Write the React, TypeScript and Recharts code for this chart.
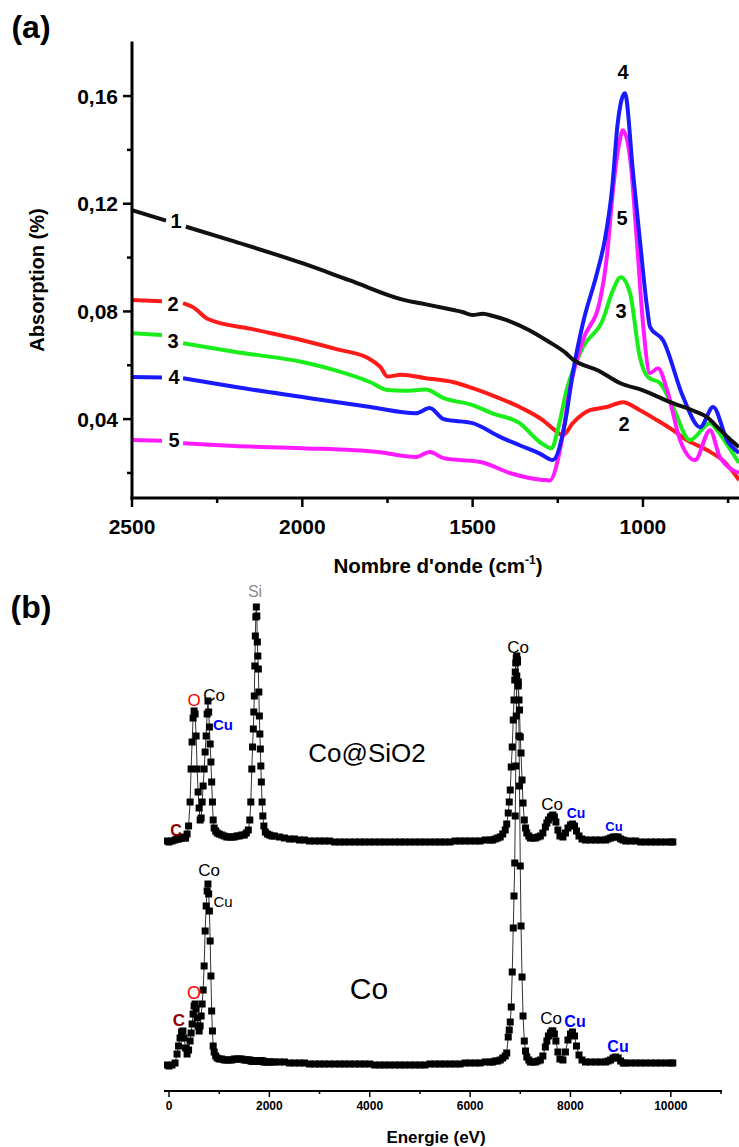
import { Line, LineChart, XAxis, YAxis } from "recharts";

const FONT = "'Liberation Sans', Arial, Helvetica, sans-serif";

// ---- (a) FTIR absorption, wavenumber in cm-1 (null = gap behind the curve label)
const curve1Wn = [2500, 2400, 2370, 2342, 2200, 2000, 1862, 1700, 1640, 1556, 1530, 1500, 1470, 1440, 1400, 1335, 1280, 1226, 1206, 1130, 1068, 1000, 912, 850, 812, 780, 750, 718];
const curve1Abs = [0.1176, 0.1137, null, 0.1115, 0.106, 0.0979, 0.0916, 0.0842, 0.0827, 0.0805, 0.0798, 0.0787, 0.0791, 0.0783, 0.0768, 0.0731, 0.069, 0.0645, 0.0622, 0.058, 0.0534, 0.0507, 0.0459, 0.043, 0.0407, 0.0368, 0.0332, 0.0296];

const curve2Wn = [2500, 2412, 2380, 2350, 2320, 2277, 2150, 2000, 1900, 1806, 1770, 1750, 1709, 1638, 1556, 1500, 1444, 1362, 1294, 1260, 1235, 1206, 1156, 1106, 1059, 1009, 960, 912, 871, 812, 760, 718];
const curve2Abs = [0.0842, 0.0838, null, 0.0831, 0.0815, 0.0772, 0.0735, 0.0693, 0.066, 0.0626, 0.0592, 0.0558, 0.0565, 0.0552, 0.0537, 0.0515, 0.0489, 0.0445, 0.0396, 0.036, 0.034, 0.0385, 0.0433, 0.0445, 0.0463, 0.0433, 0.0397, 0.0359, 0.0322, 0.0285, 0.024, 0.0174];

const curve3Wn = [2500, 2412, 2380, 2350, 2200, 2000, 1900, 1800, 1750, 1700, 1638, 1585, 1500, 1444, 1362, 1303, 1268, 1250, 1224, 1176, 1118, 1088, 1065, 1038, 1009, 985, 950, 912, 862, 803, 780, 750, 718];
const curve3Abs = [0.0719, 0.0712, null, 0.0682, 0.065, 0.0612, 0.058, 0.0537, 0.0508, 0.0505, 0.051, 0.0478, 0.0452, 0.0422, 0.0385, 0.0315, 0.0292, 0.036, 0.0508, 0.0667, 0.0768, 0.0879, 0.0927, 0.0868, 0.063, 0.0556, 0.0534, 0.0445, 0.0322, 0.0385, 0.0355, 0.03, 0.0237];

const curve4Wn = [2500, 2412, 2380, 2350, 2200, 2000, 1800, 1667, 1626, 1585, 1500, 1418, 1362, 1300, 1265, 1229, 1206, 1176, 1135, 1112, 1091, 1074, 1053, 1029, 1009, 988, 979, 941, 882, 832, 794, 753, 718];
const curve4Abs = [0.0556, 0.0555, null, 0.0552, 0.052, 0.0482, 0.0445, 0.0422, 0.0441, 0.04, 0.0385, 0.0333, 0.0303, 0.027, 0.0248, 0.0385, 0.0571, 0.0757, 0.0942, 0.1065, 0.125, 0.15, 0.161, 0.1313, 0.1065, 0.0816, 0.0742, 0.0693, 0.0482, 0.037, 0.0445, 0.0322, 0.0274];

const curve5Wn = [2500, 2412, 2380, 2350, 2200, 2000, 1779, 1667, 1626, 1585, 1474, 1391, 1294, 1274, 1238, 1215, 1176, 1126, 1106, 1088, 1068, 1059, 1038, 1018, 1000, 979, 956, 929, 891, 847, 803, 774, 718];
const curve5Abs = [0.0322, 0.032, null, 0.031, 0.03, 0.0292, 0.0278, 0.0259, 0.0278, 0.0255, 0.024, 0.02, 0.0174, 0.0172, 0.0322, 0.0508, 0.0693, 0.0842, 0.1002, 0.125, 0.1436, 0.1473, 0.1373, 0.1065, 0.0757, 0.0571, 0.0589, 0.0508, 0.0322, 0.0248, 0.0359, 0.0259, 0.02];

const ftirTicksX = [2500, 2250, 2000, 1750, 1500, 1250, 1000, 750];
const ftirTicksY = [0.02, 0.04, 0.06, 0.08, 0.1, 0.12, 0.14, 0.16];

// ---- (b) EDX spectra, energy in eV, counts in a.u.
const lowEnergyEv = [
  -50, 0, 60, 120, 160, 190, 220, 250, 277, 300,
  330, 360, 390, 420, 440, 460, 480, 500, 520, 540,
  560, 580, 600, 620, 640, 660, 680, 700, 720, 740,
  760, 776, 790, 805, 820, 835, 850, 865, 880, 900,
  930, 960, 1000, 1050, 1100, 1150, 1200, 1250, 1300, 1350,
  1400, 1450, 1500, 1540, 1580, 1610, 1630, 1650, 1665, 1680,
  1690, 1700, 1710, 1720, 1730, 1740, 1750, 1760, 1770, 1780,
  1790, 1800, 1810, 1820, 1830, 1840, 1855, 1870, 1890, 1920,
  1960, 2000, 2050, 2100,
];
const lowCoSiO2 = [
  1, 0, 1, 2, 3, 3, 4, 4, 5, 4,
  4, 8, 16, 40, 73, 100, 124, 131, 128, 106,
  73, 50, 34, 22, 24, 40, 56, 73, 90, 106,
  128, 141, 130, 115, 98, 80, 60, 40, 22, 14,
  11, 9, 8, 7, 6, 5, 5, 5, 5, 6,
  6, 7, 7, 9, 12, 22, 40, 73, 95, 113,
  130, 146, 176, 206, 225, 235, 226, 200, 186, 173,
  150, 126, 108, 93, 76, 60, 40, 26, 16, 10,
  8, 7, 6, 6,
];
const lowCo = [
  1, 0, 1, 3, 12, 20, 28, 34, 35, 28,
  18, 12, 16, 25, 33, 42, 52, 60, 62, 57,
  48, 40, 35, 40, 50, 62, 76, 100, 135, 160,
  175, 182, 172, 155, 125, 90, 55, 35, 20, 14,
  10, 8, 7, 7, 6, 6, 6, 6, 7, 7,
  7, 7, 6, 6, 6, 6, 5, 5, 5, 5,
  5, 5, 5, 5, 5, 5, 5, 5, 5, 5,
  5, 5, 5, 5, 5, 5, 5, 5, 4, 4,
  4, 4, 4, 4,
];

const midEnergyEv = [
  2200, 2300, 2400, 2500, 2600, 2700, 2800, 2900, 3000, 3100,
  3200, 3300, 3400, 3500, 3600, 3700, 3800, 3900, 4000, 4100,
  4200, 4300, 4400, 4500, 4600, 4700, 4800, 4900, 5000, 5100,
  5200, 5300, 5400, 5500, 5600, 5700, 5800, 5900, 6000, 6100,
  6200, 6300,
];
const midCoSiO2 = [
  5, 4, 3, 3, 2, 2, 1, 1, 1, 1,
  1, 0, 0, 0, 0, 0, 0, 0, 0, 0,
  0, 0, 0, 0, 0, 0, 0, 0, 0, 0,
  0, 0, 0, 0, 0, 1, 1, 1, 1, 1,
  1, 2,
];
const midCo = [
  4, 4, 3, 3, 3, 3, 2, 2, 2, 2,
  2, 2, 2, 2, 2, 2, 2, 2, 2, 1,
  1, 1, 1, 1, 1, 1, 1, 1, 1, 1,
  2, 2, 2, 2, 2, 2, 2, 3, 3, 3,
  3, 4,
];

const highEnergyEv = [
  6400, 6450, 6500, 6550, 6600, 6650, 6700, 6730, 6760, 6780,
  6800, 6820, 6840, 6860, 6875, 6890, 6900, 6910, 6920, 6930,
  6945, 6960, 6975, 6985, 7000, 7015, 7035, 7055, 7080, 7105,
  7130, 7170, 7200, 7250, 7300, 7350, 7400, 7450, 7500, 7530,
  7560, 7600, 7630, 7650, 7680, 7710, 7750, 7790, 7850, 7900,
  7950, 8000, 8040, 8080, 8120, 8170, 8230, 8300, 8400, 8500,
  8600, 8700, 8750, 8800, 8850, 8900, 8950, 9000, 9050, 9100,
  9200, 9300, 9400, 9500, 9600, 9700, 9800, 9900, 10000, 10040,
];
const highCoSiO2 = [
  2, 2, 3, 4, 5, 8, 12, 18, 29, 40,
  52, 75, 95, 122, 142, 162, 170, 179, 184, 186,
  182, 160, 142, 132, 105, 89, 62, 39, 22, 14,
  9, 6, 4, 4, 4, 5, 6, 9, 15, 19,
  22, 25, 26, 27, 25, 20, 12, 6, 5, 9,
  14, 17, 18, 16, 11, 6, 3, 2, 2, 2,
  2, 2, 3, 4, 5, 5, 5, 3, 2, 1,
  1, 1, 0, 0, 0, 0, 0, 0, 0, 0,
];
const highCo = [
  4, 4, 5, 5, 6, 8, 10, 13, 29, 36,
  44, 59, 94, 138, 170, 203, 250, 300, 350, 390,
  404, 380, 330, 280, 200, 140, 89, 50, 25, 15,
  9, 6, 4, 4, 4, 5, 6, 10, 19, 25,
  30, 33, 35, 35, 32, 25, 14, 7, 6, 14,
  26, 32, 34, 30, 20, 11, 6, 4, 4, 4,
  4, 4, 5, 6, 8, 9, 8, 5, 3, 3,
  3, 3, 3, 3, 3, 3, 3, 3, 3, 3,
];

const edxTicks = [0, 1000, 2000, 3000, 4000, 5000, 6000, 7000, 8000, 9000, 10000, 11000];

const toFtir = (wn: number[], abs: (number | null)[]) => wn.map((w, i) => ({ wn: w, abs: abs[i] }));
const energyEv = [...lowEnergyEv, ...midEnergyEv, ...highEnergyEv];
const coSiO2Counts = [...lowCoSiO2, ...midCoSiO2, ...highCoSiO2];
const coCounts = [...lowCo, ...midCo, ...highCo];
const coSiO2Data = energyEv.map((e, i) => ({ e, c: coSiO2Counts[i] }));
const coData = energyEv.map((e, i) => ({ e, c: coCounts[i] }));

function FtirBottomTick({ x, y, payload }: any) {
  const major = payload.value % 500 === 0;
  return (
    <g>
      <line x1={x} x2={x} y1={y} y2={y + (major ? 9 : 5)} stroke="#000" strokeWidth={2.5} />
      {major && (
        <text x={x} y={y + 36} textAnchor="middle" fontSize={21} fontWeight="bold" fontFamily={FONT} fill="#000">
          {payload.value}
        </text>
      )}
    </g>
  );
}

function FtirTopTick({ x, y }: any) {
  return <line x1={x} x2={x} y1={y} y2={y + 4} stroke="#000" strokeWidth={2} />;
}

function FtirLeftTick({ x, y, payload }: any) {
  const v = payload.value;
  const major = Math.round(v * 100) % 4 === 0;
  return (
    <g>
      <line x1={x - (major ? 9 : 5)} x2={x} y1={y} y2={y} stroke="#000" strokeWidth={2.5} />
      {major && (
        <text x={x - 14} y={y + 7.5} textAnchor="end" fontSize={21} fontWeight="bold" fontFamily={FONT} fill="#000">
          {v.toFixed(2).replace(".", ",")}
        </text>
      )}
    </g>
  );
}

function EdxTick({ x, y, payload }: any) {
  const v = payload.value;
  const major = v % 2000 === 0;
  return (
    <g>
      <line x1={x} x2={x} y1={y} y2={y + (major ? 6 : 3)} stroke="#000" strokeWidth={1.5} />
      {major && v <= 10000 && (
        <text x={x} y={y + 18.5} textAnchor="middle" fontSize={12} fontWeight="bold" fontFamily={FONT} fill="#000">
          {v}
        </text>
      )}
    </g>
  );
}

const squareDot = (p: any) => {
  if (p.cx == null || p.cy == null) return <g key={p.index} />;
  return <rect key={p.index} x={p.cx - 3.5} y={p.cy - 3.5} width={7} height={7} fill="#000" />;
};

const axisStroke = { stroke: "#000", strokeWidth: 3, strokeLinecap: "square" as const };

function Label({ x, y, children, size = 16, color = "#000", bold = false, rotate = 0 }: any) {
  return (
    <text
      x={x}
      y={y}
      fontSize={size}
      fill={color}
      fontWeight={bold ? "bold" : "normal"}
      fontFamily={FONT}
      textAnchor="middle"
      dominantBaseline="central"
      transform={rotate ? `rotate(${rotate} ${x} ${y})` : undefined}
    >
      {children}
    </text>
  );
}

export default function App() {
  return (
    <div style={{ position: "absolute", left: 0, top: 0, width: 739, height: 1147, background: "#fff", overflow: "hidden" }}>
      <div style={{ position: "absolute", left: 0, top: 0 }}>
        <LineChart width={739} height={540} margin={{ top: 43, right: 0, bottom: 2, left: 0 }}>
          <XAxis
            xAxisId="top"
            orientation="top"
            type="number"
            dataKey="wn"
            domain={[718, 2500]}
            reversed
            allowDataOverflow
            height={0}
            ticks={ftirTicksX}
            interval={0}
            tickSize={0}
            tickMargin={0}
            tickLine={false}
            axisLine={axisStroke}
            tick={<FtirTopTick />}
          />
          <XAxis
            type="number"
            dataKey="wn"
            domain={[718, 2500]}
            reversed
            allowDataOverflow
            height={40}
            ticks={ftirTicksX}
            interval={0}
            tickSize={0}
            tickMargin={0}
            tickLine={false}
            axisLine={axisStroke}
            tick={<FtirBottomTick />}
          />
          <YAxis
            type="number"
            domain={[0.0107, 0.1797]}
            allowDataOverflow
            width={132}
            ticks={ftirTicksY}
            interval={0}
            tickSize={0}
            tickMargin={0}
            tickLine={false}
            axisLine={axisStroke}
            tick={<FtirLeftTick />}
          />
          <Line data={toFtir(curve2Wn, curve2Abs)} dataKey="abs" type="monotone" stroke="#ff1a1a" strokeWidth={4} dot={false} isAnimationActive={false} />
          <Line data={toFtir(curve3Wn, curve3Abs)} dataKey="abs" type="monotone" stroke="#1aee1a" strokeWidth={4} dot={false} isAnimationActive={false} />
          <Line data={toFtir(curve5Wn, curve5Abs)} dataKey="abs" type="monotone" stroke="#ff1aff" strokeWidth={4} dot={false} isAnimationActive={false} />
          <Line data={toFtir(curve4Wn, curve4Abs)} dataKey="abs" type="monotone" stroke="#1a1aff" strokeWidth={4} dot={false} isAnimationActive={false} />
          <Line data={toFtir(curve1Wn, curve1Abs)} dataKey="abs" type="monotone" stroke="#111" strokeWidth={4} dot={false} isAnimationActive={false} />
        </LineChart>
      </div>

      <div style={{ position: "absolute", left: 0, top: 570 }}>
        <LineChart width={739} height={560} margin={{ top: 10, right: 17, bottom: 14, left: 164 }}>
          <XAxis
            type="number"
            dataKey="e"
            domain={[-100, 11020]}
            allowDataOverflow
            height={25}
            ticks={edxTicks}
            interval={0}
            tickSize={0}
            tickMargin={0}
            tickLine={false}
            axisLine={{ stroke: "#000", strokeWidth: 2 }}
            tick={<EdxTick />}
          />
          <YAxis yAxisId="top" type="number" domain={[-249, 262]} allowDataOverflow hide />
          <YAxis yAxisId="bot" type="number" domain={[-25, 486]} allowDataOverflow hide />
          <Line yAxisId="bot" data={coData} dataKey="c" type="linear" stroke="#333" strokeWidth={1} dot={squareDot} isAnimationActive={false} />
          <Line yAxisId="top" data={coSiO2Data} dataKey="c" type="linear" stroke="#333" strokeWidth={1} dot={squareDot} isAnimationActive={false} />
        </LineChart>
      </div>

      <svg width={739} height={1147} style={{ position: "absolute", left: 0, top: 0, pointerEvents: "none" }}>
        <Label x={31} y={27} size={32} bold>(a)</Label>
        <Label x={37} y={280} size={20} bold rotate={-90}>Absorption (%)</Label>
        <text x={438} y={573} fontSize={20.5} fontWeight="bold" fontFamily={FONT} textAnchor="middle">
          Nombre d'onde (cm
          <tspan dy={-9} fontSize={12}>-1</tspan>
          <tspan dy={9}>)</tspan>
        </text>
        <Label x={176} y={221} size={20} bold>1</Label>
        <Label x={173} y={304} size={20} bold>2</Label>
        <Label x={173} y={341} size={20} bold>3</Label>
        <Label x={174} y={377} size={20} bold>4</Label>
        <Label x={174} y={440} size={20} bold>5</Label>
        <Label x={623} y={72} size={20} bold>4</Label>
        <Label x={622} y={218} size={20} bold>5</Label>
        <Label x={621} y={311} size={20} bold>3</Label>
        <Label x={624} y={424} size={20} bold>2</Label>

        <Label x={31} y={607} size={32} bold>(b)</Label>
        <Label x={255} y={591} size={16} color="#8c8c8c">Si</Label>
        <Label x={176} y={830} size={16} color="#8b0000" bold>C</Label>
        <Label x={194} y={700} size={17} color="#ff0000">O</Label>
        <Label x={214} y={695} size={17}>Co</Label>
        <Label x={223} y={724} size={15} color="#0000ff" bold>Cu</Label>
        <Label x={518} y={647} size={17}>Co</Label>
        <Label x={552} y={804} size={17}>Co</Label>
        <Label x={576} y={813} size={14} color="#0000ff" bold>Cu</Label>
        <Label x={614} y={826} size={13} color="#0000ff" bold>Cu</Label>
        <Label x={367} y={753} size={26}>Co@SiO2</Label>

        <Label x={209} y={870} size={17}>Co</Label>
        <Label x={223} y={901} size={15}>Cu</Label>
        <Label x={194} y={993} size={18} color="#ff0000">O</Label>
        <Label x={179} y={1020} size={17} color="#8b0000" bold>C</Label>
        <Label x={369} y={988} size={30}>Co</Label>
        <Label x={551} y={1018} size={17}>Co</Label>
        <Label x={575} y={1021} size={16} color="#0000ff" bold>Cu</Label>
        <Label x={618} y={1046} size={16} color="#0000ff" bold>Cu</Label>
        <Label x={436} y={1137} size={17} bold>Energie (eV)</Label>
      </svg>
    </div>
  );
}
